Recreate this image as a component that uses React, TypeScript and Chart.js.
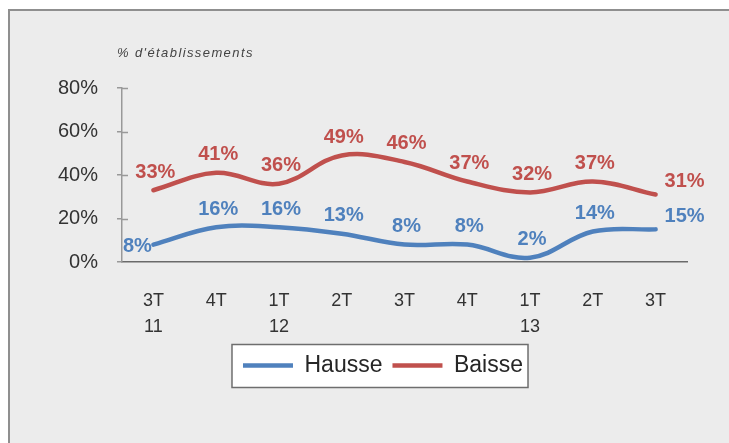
import React, { useEffect, useRef } from "react";
import { Chart, registerables } from "chart.js";

Chart.register(...registerables);

const categories: string[][] = [["3T", "11"], ["4T"], ["1T", "12"], ["2T"], ["3T"], ["4T"], ["1T", "13"], ["2T"], ["3T"]];
const hausse = [8, 16, 16, 13, 8, 8, 2, 14, 15];
const baisse = [33, 41, 36, 49, 46, 37, 32, 37, 31];
const yTickValues = [0, 20, 40, 60, 80];
const seriesNames = ["Hausse", "Baisse"];
const axisTitle = "% d'établissements";

const FONT = '"Liberation Sans", Arial, sans-serif';
const BLUE = "#4F81BD";
const RED = "#C0504D";
const LEGEND_CENTER_X = 383;

const decorPlugin = {
  id: "decor",
  afterLayout(chart: any) {
    const lg = chart.legend;
    if (!lg) return;
    const shift = LEGEND_CENTER_X - (lg.left + lg.right) / 2;
    lg.left += shift;
    lg.right += shift;
  },
  beforeDraw(chart: any) {
    const { ctx } = chart;
    const lg = chart.legend;
    if (lg && lg.legendHitBoxes && lg.legendHitBoxes.length) {
      const hb = lg.legendHitBoxes;
      let l = Infinity, r = -Infinity, t = Infinity, b = -Infinity;
      hb.forEach((h: any) => {
        l = Math.min(l, h.left);
        r = Math.max(r, h.left + h.width);
        t = Math.min(t, h.top);
        b = Math.max(b, h.top + h.height);
      });
      const cy = (t + b) / 2;
      ctx.save();
      ctx.fillStyle = "#ffffff";
      ctx.strokeStyle = "#6e6e6e";
      ctx.lineWidth = 1.5;
      ctx.fillRect(l - 11, cy - 21, r - l + 16, 43);
      ctx.strokeRect(l - 11, cy - 21, r - l + 16, 43);
      ctx.restore();
    }
  },
  afterDraw(chart: any) {
    const { ctx, chartArea } = chart;
    const ys = chart.scales.y;
    ctx.save();
    // inner half of crossing tick marks
    ctx.strokeStyle = "#999999";
    ctx.lineWidth = 1.5;
    ys.ticks.forEach((t: any) => {
      const y = Math.round(ys.getPixelForValue(t.value)) + 0.5;
      if (t.value === 0) return;
      ctx.beginPath();
      ctx.moveTo(chartArea.left, y);
      ctx.lineTo(chartArea.left + 6, y);
      ctx.stroke();
    });
    // axis title
    ctx.fillStyle = "#444444";
    ctx.font = `italic 13px ${FONT}`;
    (ctx as any).letterSpacing = "1.4px";
    ctx.textAlign = "left";
    ctx.textBaseline = "middle";
    ctx.fillText(axisTitle, chartArea.left - 5, chartArea.top - 35);
    (ctx as any).letterSpacing = "0px";
    ctx.restore();
  },
  afterDatasetsDraw(chart: any) {
    const { ctx } = chart;
    ctx.save();
    ctx.font = `bold 20px ${FONT}`;
    ctx.textAlign = "center";
    ctx.textBaseline = "middle";
    chart.data.datasets.forEach((ds: any, di: number) => {
      const meta = chart.getDatasetMeta(di);
      const n = ds.data.length;
      ctx.fillStyle = ds.borderColor;
      meta.data.forEach((pt: any, i: number) => {
        let dx = 2;
        let dy = -18;
        if (di === 0 && i === 0) {
          dx = -16;
          dy = 2;
        } else if (i === n - 1) {
          dx = 29;
          dy = -13;
        }
        ctx.fillText(ds.data[i] + "%", pt.x + dx, pt.y + dy);
      });
    });
    ctx.restore();
  },
};

export default function App() {
  const ref = useRef<HTMLCanvasElement | null>(null);

  useEffect(() => {
    document.body.style.margin = "0";
    const canvas = ref.current;
    if (!canvas) return;
    const chart = new Chart(canvas, {
      type: "line",
      data: {
        labels: categories,
        datasets: [
          {
            label: seriesNames[0],
            data: hausse,
            borderColor: BLUE,
            backgroundColor: BLUE,
            borderWidth: 4.5,
            tension: 0.38,
            pointRadius: 0,
            borderCapStyle: "round",
          },
          {
            label: seriesNames[1],
            data: baisse,
            borderColor: RED,
            backgroundColor: RED,
            borderWidth: 4.5,
            tension: 0.38,
            pointRadius: 0,
            borderCapStyle: "round",
          },
        ],
      },
      options: {
        responsive: false,
        animation: false,
        devicePixelRatio: 1,
        layout: { padding: { left: 30, right: 73, top: 88, bottom: 56 } },
        plugins: {
          tooltip: { enabled: false },
          legend: {
            position: "bottom",
            labels: {
              usePointStyle: true,
              pointStyle: "line",
              pointStyleWidth: 50,
              padding: 10,
              color: "#262626",
              font: { family: FONT, size: 23 },
            },
          },
        },
        scales: {
          x: {
            offset: true,
            grid: { display: false, drawTicks: false },
            border: { display: true, color: "#6a6a6a", width: 1.5 },
            ticks: {
              color: "#333333",
              font: { family: FONT, size: 18, lineHeight: 1.45 },
              padding: 26,
              maxRotation: 0,
              autoSkip: false,
            },
            afterFit: (s: any) => {
              s.height = 82;
            },
          },
          y: {
            min: 0,
            max: 80,
            afterBuildTicks: (s: any) => {
              s.ticks = yTickValues.map((v) => ({ value: v }));
            },
            grid: {
              display: true,
              drawOnChartArea: false,
              drawTicks: true,
              tickLength: 5,
              color: "#999999",
              lineWidth: 1.5,
            },
            border: { display: true, color: "#999999", width: 1.5 },
            ticks: {
              color: "#333333",
              font: { family: FONT, size: 20 },
              padding: 19,
              callback: (v: any) => v + "%",
            },
            afterFit: (s: any) => {
              s.width = 92;
            },
          },
        },
      },
      plugins: [decorPlugin],
    });
    return () => chart.destroy();
  }, []);

  return (
    <div style={{ position: "relative", width: 729, height: 443, overflow: "hidden", background: "#ffffff" }}>
      <div
        style={{
          position: "absolute",
          left: 8,
          top: 9,
          width: 760,
          height: 460,
          border: "2px solid #8f8f8f",
          boxSizing: "border-box",
          background: "#ececec",
        }}
      />
      <canvas
        ref={ref}
        width={760}
        height={443}
        style={{ position: "absolute", left: 0, top: 0, width: 760, height: 443 }}
      />
    </div>
  );
}
